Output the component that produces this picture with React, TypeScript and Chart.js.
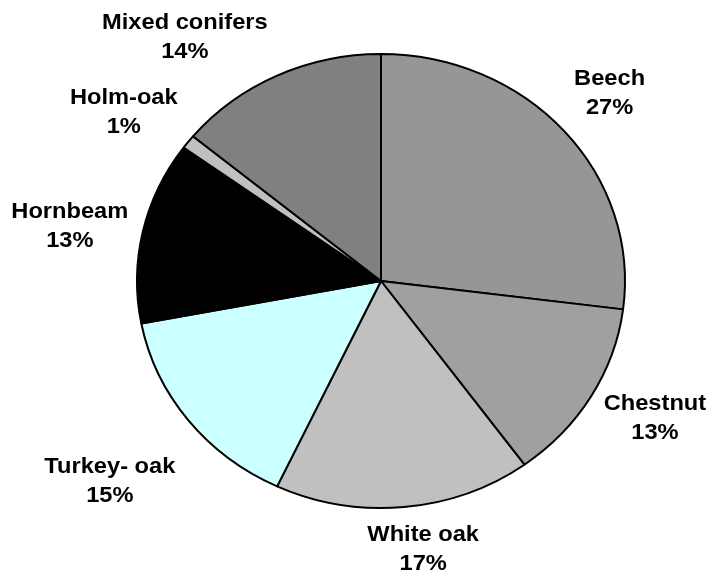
import React, { useEffect, useRef } from "react";
import { Chart, registerables } from "chart.js";

Chart.register(...registerables);

// ---- data ----
const categories = [
  "Beech",
  "Chestnut",
  "White oak",
  "Turkey- oak",
  "Hornbeam",
  "Holm-oak",
  "Mixed conifers",
];
const shares = [27, 13, 17, 15, 13, 1, 14];
const sliceColors = [
  "#969696",
  "#a0a0a0",
  "#c0c0c0",
  "#ccffff",
  "#000000",
  "#c0c0c0",
  "#808080",
];

// label placement (relative to each slice's mid-angle, in units of the radius)
const labelRadius = [1.249, 1.275, 1.197, 1.42, 1.298, 1.29, 1.342];
const labelAngleShift = [0, -2.3, -2.9, -0.7, -1.9, -2.6, -11.6];

const SQUASH = 227 / 244; // pie is drawn as a slightly flattened ellipse
const TEXT_STRETCH = 1.075;
const FONT = 'bold 22px "Liberation Sans", Arial, Helvetica, sans-serif';
const LINE_GAP = 29;

const squashPlugin = {
  id: "squash",
  beforeDatasetsDraw(chart: any) {
    const arc = chart.getDatasetMeta(0).data[0];
    if (!arc) return;
    const ctx = chart.ctx;
    ctx.save();
    ctx.translate(arc.x, arc.y);
    ctx.scale(1, SQUASH);
    ctx.translate(-arc.x, -arc.y);
  },
  afterDatasetsDraw(chart: any) {
    chart.ctx.restore();
  },
};

const labelPlugin = {
  id: "sliceLabels",
  afterDraw(chart: any) {
    const ctx = chart.ctx;
    const meta = chart.getDatasetMeta(0);
    ctx.save();
    ctx.font = FONT;
    ctx.fillStyle = "#000000";
    ctx.textAlign = "center";
    ctx.textBaseline = "middle";
    meta.data.forEach((arc: any, i: number) => {
      const p = arc.getProps(["x", "y", "startAngle", "endAngle", "outerRadius"], true);
      const mid = (p.startAngle + p.endAngle) / 2 + (labelAngleShift[i] * Math.PI) / 180;
      const r = p.outerRadius * labelRadius[i];
      const lx = p.x + Math.cos(mid) * r;
      const ly = p.y + Math.sin(mid) * r * SQUASH;
      const lines = [categories[i], `${shares[i]}%`];
      lines.forEach((line, j) => {
        ctx.save();
        ctx.translate(lx, ly + (j - (lines.length - 1) / 2) * LINE_GAP);
        ctx.scale(TEXT_STRETCH, 1);
        ctx.fillText(line, 0, 0);
        ctx.restore();
      });
    });
    ctx.restore();
  },
};

export default function App() {
  const canvasRef = useRef<HTMLCanvasElement | null>(null);

  useEffect(() => {
    const canvas = canvasRef.current;
    if (!canvas) return;
    const chart = new Chart(canvas, {
      type: "pie",
      data: {
        labels: categories,
        datasets: [
          {
            data: shares,
            backgroundColor: sliceColors,
            borderColor: "#000000",
            borderWidth: 2,
          },
        ],
      },
      options: {
        animation: false,
        responsive: false,
        events: [],
        layout: { padding: { left: 136, right: 83, top: 36, bottom: 52 } },
        plugins: {
          legend: { display: false },
          tooltip: { enabled: false },
          title: { display: false },
        },
      },
      plugins: [squashPlugin, labelPlugin],
    });
    return () => chart.destroy();
  }, []);

  return (
    <div style={{ position: "absolute", left: 0, top: 0, width: 709, height: 578, background: "#ffffff" }}>
      <canvas ref={canvasRef} width={709} height={578} />
    </div>
  );
}
